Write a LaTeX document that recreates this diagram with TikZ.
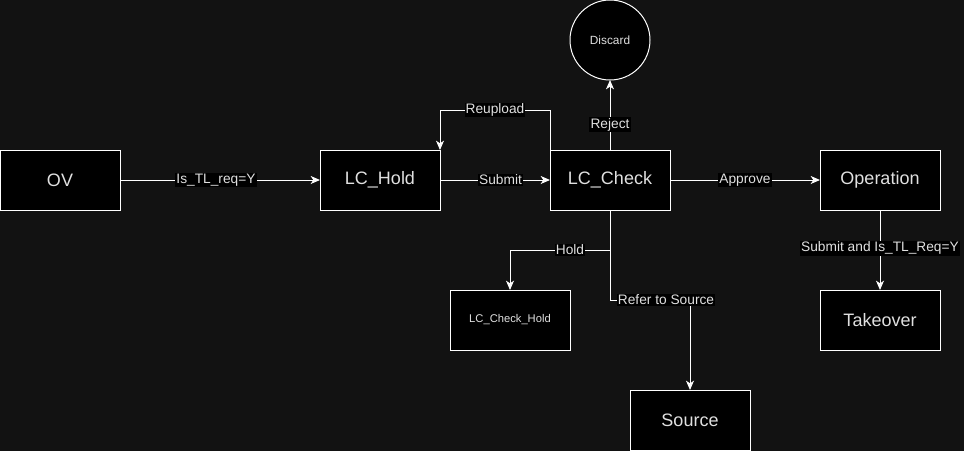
\documentclass[tikz,border=0pt]{standalone}
\usepackage{fontspec}
\setmainfont{Liberation Sans}
\usetikzlibrary{positioning, arrows.meta, shapes}

\definecolor{bgcol}{HTML}{121212}
\definecolor{txtcol}{HTML}{E0E0E0}

\begin{document}
\begin{tikzpicture}[x=0.75pt, y=-0.75pt,
        state box/.style={draw=white, fill=black, line width=0.75pt, text=txtcol, outer sep=0pt,
            minimum width=90pt, minimum height=45pt, inner sep=0pt, font=\fontsize{13.5}{15}\selectfont},
        small box/.style={state box, font=\fontsize{8.4}{10}\selectfont},
        end state/.style={circle, draw=white, fill=black, line width=0.75pt, text=txtcol, outer sep=0pt,
            minimum size=60pt, inner sep=0pt, font=\fontsize{8.9}{10}\selectfont},
        lbl/.style={fill=black, text=txtcol, inner sep=0.8pt, font=\fontsize{10.3}{12}\selectfont},
        flow/.style={draw=white, line width=0.75pt, -{Stealth[length=7pt, width=6pt, inset=2pt]}}]
        \fill[bgcol] (0,0) rectangle (964,451);
        \useasboundingbox (0,0) rectangle (964,451);
        \node[state box] (ov) at (60,180) {OV};
        \node[state box, right=150pt of ov] (hold) {LC\_Hold};
        \node[state box, right=82.5pt of hold] (check) {LC\_Check};
        \node[state box, right=112.5pt of check] (oper) {Operation};
        \node[state box, below=60pt of oper] (takeover) {Takeover};
        \node[end state, above=52.5pt of check] (discard) {Discard};
        \node[small box, below=60pt of check, xshift=-75pt] (checkhold) {LC\_Check\_Hold};
        \node[state box, below=135pt of check, xshift=60pt] (source) {Source};
        %--------------------------
        \draw[flow] (ov) -- node[lbl, pos=0.48] {Is\_TL\_req=Y} (hold);
        \draw[flow] (hold) -- node[lbl, pos=0.55] {Submit} (check);
        \draw[flow] (check) -- node[lbl] {Approve} (oper);
        \draw[flow] (check) -- node[lbl, pos=0.36] {Reject} (discard);
        \draw[flow] (oper) -- node[lbl, pos=0.48] {Submit and Is\_TL\_Req=Y} (takeover);
        \draw[flow] (check.north west) -- ++(0,-40) -| node[lbl, pos=0.25] {Reupload} (hold.north east);
        \draw[flow] (check.south) -- ++(0,40) -| node[lbl, pos=0.2] {Hold} (checkhold.north);
        \draw[flow] (check.south) -- ++(0,90) -| node[lbl, pos=0.35] {Refer to Source} (source.north);
\end{tikzpicture}
\end{document}
